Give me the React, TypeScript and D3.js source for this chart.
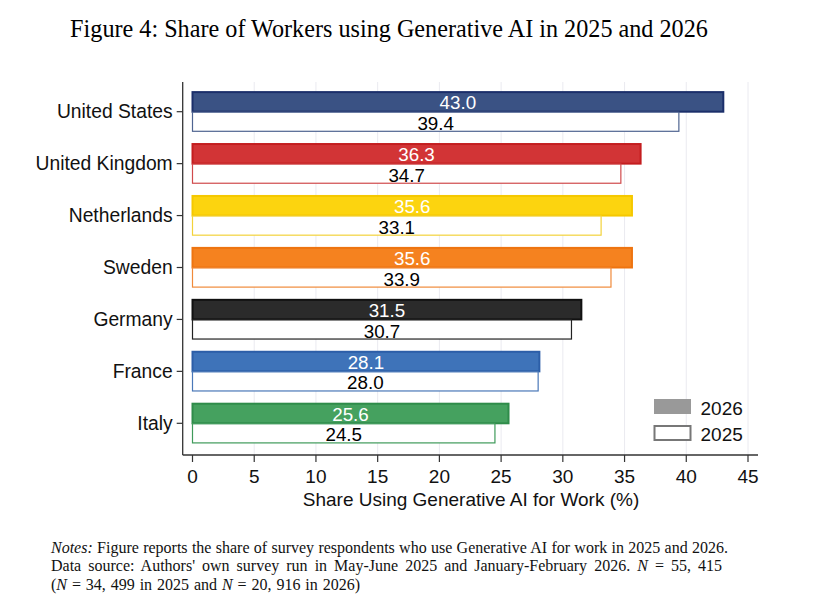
import React, { useEffect, useRef } from "react";
import * as d3 from "d3";

const countries = ["United States", "United Kingdom", "Netherlands", "Sweden", "Germany", "France", "Italy"];
const values2026 = [43.0, 36.3, 35.6, 35.6, 31.5, 28.1, 25.6];
const values2025 = [39.4, 34.7, 33.1, 33.9, 30.7, 28.0, 24.5];
const fillColors = ["#3a5284", "#d23436", "#fcd40f", "#f5821f", "#2b2b2b", "#3e73b9", "#45a15f"];
const strokeColors = ["#1b2f6a", "#c41d1f", "#f5c800", "#ee7410", "#111111", "#2c5ea8", "#2f8c4a"];
const outline2025 = ["#4f6491", "#d04a4c", "#f3d23a", "#f08a3a", "#222222", "#4a78b8", "#3f9a5a"];
const xTicks = [0, 5, 10, 15, 20, 25, 30, 35, 40, 45];
const legendLabels = ["2026", "2025"];

const W = 825;
const H = 604;
const SANS = "'Liberation Sans', Arial, Helvetica, sans-serif";
const SERIF = "'Liberation Serif', 'Times New Roman', serif";

export default function App() {
  const ref = useRef<SVGSVGElement | null>(null);

  useEffect(() => {
    const svg = d3.select(ref.current);
    svg.selectAll("*").remove();

    const x = d3.scaleLinear().domain([0, 45]).range([192.5, 748]);
    const y = d3.scalePoint<string>().domain(countries).range([111.7, 423.3]);
    const barH = 19.6;
    const plotTop = 82;
    const plotBottom = 455;
    const axisX = 182.7;

    // title
    svg.append("text")
      .attr("x", 389).attr("y", 36.5)
      .attr("text-anchor", "middle")
      .attr("font-family", SERIF).attr("font-size", 24.2)
      .attr("fill", "#000")
      .text("Figure 4: Share of Workers using Generative AI in 2025 and 2026");

    // gridlines
    svg.append("g").selectAll("line").data(xTicks.filter(t => t > 0)).join("line")
      .attr("x1", d => x(d)).attr("x2", d => x(d))
      .attr("y1", plotTop).attr("y2", plotBottom)
      .attr("stroke", "#eaeaf0").attr("stroke-width", 1);

    // bars
    const g = svg.append("g");
    countries.forEach((c, i) => {
      const cy = y(c)!;
      g.append("rect")
        .attr("x", x(0)).attr("y", cy - barH)
        .attr("width", x(values2026[i]) - x(0)).attr("height", barH)
        .attr("fill", fillColors[i]).attr("stroke", strokeColors[i]).attr("stroke-width", 2);
      g.append("rect")
        .attr("x", x(0)).attr("y", cy + 0.5)
        .attr("width", x(values2025[i]) - x(0)).attr("height", barH - 0.5)
        .attr("fill", "#fff").attr("stroke", outline2025[i]).attr("stroke-width", 1.2);
      g.append("text")
        .attr("x", (x(0) + x(values2026[i])) / 2).attr("y", cy - 2.5)
        .attr("text-anchor", "middle")
        .attr("font-family", SANS).attr("font-size", 18.8)
        .attr("fill", "#fff")
        .text(values2026[i].toFixed(1));
      g.append("text")
        .attr("x", (x(0) + x(values2025[i])) / 2).attr("y", cy + barH - 1.5)
        .attr("text-anchor", "middle")
        .attr("font-family", SANS).attr("font-size", 18.8)
        .attr("fill", "#000")
        .text(values2025[i].toFixed(1));
    });

    // axes lines
    svg.append("line")
      .attr("x1", axisX).attr("x2", axisX).attr("y1", plotTop).attr("y2", plotBottom)
      .attr("stroke", "#333").attr("stroke-width", 1.3);
    svg.append("line")
      .attr("x1", axisX).attr("x2", 758).attr("y1", plotBottom).attr("y2", plotBottom)
      .attr("stroke", "#333").attr("stroke-width", 1.3);

    // y ticks and labels
    const yg = svg.append("g");
    countries.forEach(c => {
      const cy = y(c)!;
      yg.append("line").attr("x1", axisX - 6).attr("x2", axisX).attr("y1", cy).attr("y2", cy)
        .attr("stroke", "#333").attr("stroke-width", 1.2);
      yg.append("text")
        .attr("x", axisX - 10).attr("y", cy + 6.5)
        .attr("text-anchor", "end")
        .attr("font-family", SANS).attr("font-size", 19.3).attr("fill", "#111")
        .text(c);
    });

    // x ticks and labels
    const xg = svg.append("g");
    xTicks.forEach(t => {
      xg.append("line").attr("x1", x(t)).attr("x2", x(t)).attr("y1", plotBottom).attr("y2", plotBottom + 7)
        .attr("stroke", "#333").attr("stroke-width", 1.2);
      xg.append("text")
        .attr("x", x(t)).attr("y", 483)
        .attr("text-anchor", "middle")
        .attr("font-family", SANS).attr("font-size", 19).attr("fill", "#111")
        .text(String(t));
    });

    svg.append("text")
      .attr("x", 471).attr("y", 506)
      .attr("text-anchor", "middle")
      .attr("font-family", SANS).attr("font-size", 19).attr("fill", "#111")
      .text("Share Using Generative AI for Work (%)");

    // legend
    const lg = svg.append("g");
    legendLabels.forEach((lab, i) => {
      const ly = 399.5 + i * 26.5;
      lg.append("rect")
        .attr("x", 654.5).attr("y", ly)
        .attr("width", 36).attr("height", 14)
        .attr("fill", i === 0 ? "#999" : "#fff")
        .attr("stroke", i === 0 ? "#999" : "#777").attr("stroke-width", i === 0 ? 1 : 2);
      lg.append("text")
        .attr("x", 700.5).attr("y", ly + 15)
        .attr("font-family", SANS).attr("font-size", 19).attr("fill", "#111")
        .text(lab);
    });

    // notes
    const notesX = 51;
    const ng = svg.append("g").attr("font-family", SERIF).attr("font-size", 16).attr("fill", "#111");

    const line1 = ng.append("text").attr("x", notesX).attr("y", 552.5);
    line1.append("tspan").attr("font-style", "italic").text("Notes:");
    line1.append("tspan").text(" Figure reports the share of survey respondents who use Generative AI for work in 2025 and 2026.");

    const line2 = ng.append("text").attr("x", notesX).attr("y", 571);
    line2.append("tspan").text("Data source:  Authors' own survey run in May-June 2025 and January-February 2026.  ");
    line2.append("tspan").attr("font-style", "italic").text("N");
    line2.append("tspan").text(" = 55, 415");

    const line3 = ng.append("text").attr("x", notesX).attr("y", 589.5);
    line3.append("tspan").text("(");
    line3.append("tspan").attr("font-style", "italic").text("N");
    line3.append("tspan").text(" = 34, 499 in 2025 and ");
    line3.append("tspan").attr("font-style", "italic").text("N");
    line3.append("tspan").text(" = 20, 916 in 2026)");

    const targets: [any, number][] = [[line1, 728], [line2, 728], [line3, 360]];
    targets.forEach(([ln, right]) => {
      const node = ln.node() as SVGTextElement;
      const w = node.getComputedTextLength();
      const txt = node.textContent || "";
      const spaces = (txt.match(/ /g) || []).length;
      if (spaces > 0) {
        const extra = (right - notesX - w) / spaces;
        ln.attr("word-spacing", extra);
      }
    });
  }, []);

  return (
    <svg ref={ref} width={W} height={H} viewBox={`0 0 ${W} ${H}`}
      style={{ position: "absolute", left: 0, top: 0, background: "#fff" }} />
  );
}
